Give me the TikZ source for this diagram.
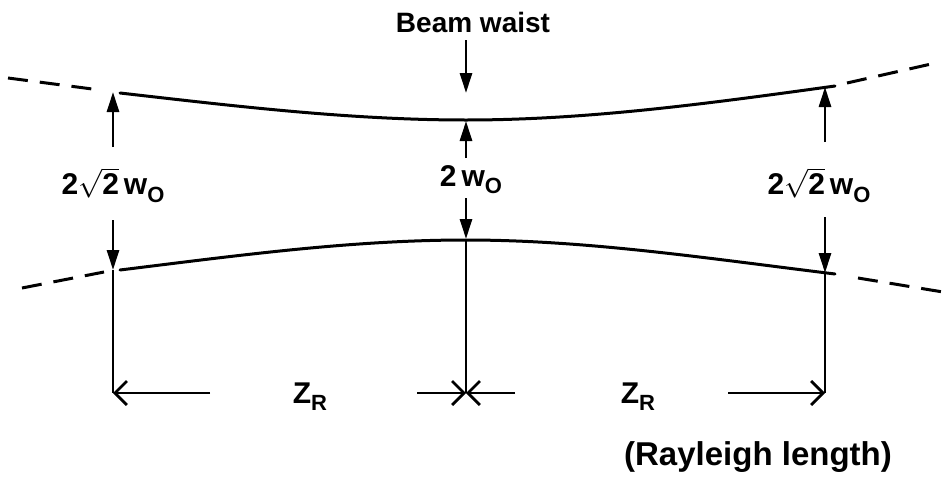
\documentclass[tikz,border=0pt]{standalone}
\usepackage{fontspec}
\setmainfont{Liberation Sans}
\usetikzlibrary{arrows.meta}
\newcommand{\lowsub}[1]{\raisebox{-0.45ex}{\fontsize{11}{12}\selectfont\bfseries #1}}
\tikzset{
  % beam envelope and its extensions
  beam/.style={line width=1.5pt, line cap=round},
  ext/.style={line width=1.5pt, dash pattern=on 10pt off 6pt},
  % arrows
  varr/.style={line width=1.4pt, -{Triangle[length=10pt,width=6pt]}},
  harr/.style={line width=1.4pt, -{Straight Barb[length=6pt,width=12pt]}},
  guide/.style={line width=1.4pt},
  % labels
  lbl/.style={font=\fontsize{15}{17}\selectfont\bfseries, inner sep=0pt},
}

\begin{document}
\begin{tikzpicture}[x=0.5pt,y=-0.5pt]
  \useasboundingbox (0,0) rectangle (943,477);

  %% Points of the envelope
  \coordinate (ul) at (120,93);
  \coordinate (uc) at (466,120);
  \coordinate (ur) at (835,86);
  \coordinate (ll) at (120,270);
  \coordinate (lc) at (466,240);
  \coordinate (lr) at (835,274);

  %% Dashed ends
  \coordinate (ulx) at (8,78);    \coordinate (uly) at (100,90);
  \coordinate (llx) at (22,288);  \coordinate (lly) at (104,272);
  \coordinate (urx) at (847,83);  \coordinate (ury) at (940,62);
  \coordinate (lrx) at (858,278); \coordinate (lry) at (943,292);

  \draw[beam] (ul) .. controls (234,106) and (350,120) .. (uc)
                   .. controls (586,120) and (705,104) .. (ur);
  \draw[beam] (ll) .. controls (234,256) and (350,240) .. (lc)
                   .. controls (586,240) and (705,258) .. (lr);
  \draw[ext] (ulx) -- (uly);
  \draw[ext] (llx) -- (lly);
  \draw[ext] (urx) -- (ury);
  \draw[ext] (lrx) -- (lry);

  %% Labels
  \node[lbl, font=\fontsize{14}{16}\selectfont\bfseries] (waist) at (473,22) {Beam waist};
  \node[lbl] (wl) at (113,185) {2$\sqrt{\mbox{2}}$\,w\lowsub{O}};
  \node[lbl] (wc) at (471,180) {2\,w\lowsub{O}};
  \node[lbl] (wr) at (819,185) {2$\sqrt{\mbox{2}}$\,w\lowsub{O}};
  \node[lbl] (zl) at (310,397) {Z\lowsub{R}};
  \node[lbl] (zr) at (638,397) {Z\lowsub{R}};
  \node[lbl, font=\fontsize{16.5}{18}\selectfont\bfseries] (rl) at (758,457) {(Rayleigh length)};

  %% Vertical arrows
  \coordinate (wt) at (466,40);   \coordinate (wtip) at (466,93);
  \coordinate (la) at (113,147);  \coordinate (lat) at (113,92);
  \coordinate (lb) at (113,220);  \coordinate (lbt) at (113,270);
  \coordinate (ca) at (466,158);  \coordinate (cat) at (466,121);
  \coordinate (cb) at (466,198);  \coordinate (cbt) at (466,239);
  \coordinate (ra) at (825,142);  \coordinate (rat) at (825,87);
  \coordinate (rb) at (825,217);  \coordinate (rbt) at (825,273);

  \draw[varr] (wt) -- (wtip);
  \draw[varr] (la) -- (lat);
  \draw[varr] (lb) -- (lbt);
  \draw[varr] (ca) -- (cat);
  \draw[varr] (cb) -- (cbt);
  \draw[varr] (ra) -- (rat);
  \draw[varr] (rb) -- (rbt);

  %% Extension lines and Rayleigh range
  \coordinate (lbot) at (113,393);
  \coordinate (cbot) at (466,393);
  \coordinate (rbot) at (825,393);
  \coordinate (h1) at (210,393);
  \coordinate (h2) at (417,393);
  \coordinate (h3) at (515,393);
  \coordinate (h4) at (728,393);

  \draw[guide] (lbt) -- (lbot);
  \draw[guide] (cbt) -- (cbot);
  \draw[guide] (rbt) -- (rbot);
  \draw[harr] (h1) -- (lbot);
  \draw[harr] (h2) -- (cbot);
  \draw[harr] (h3) -- (cbot);
  \draw[harr] (h4) -- (rbot);

\end{tikzpicture}
\end{document}
